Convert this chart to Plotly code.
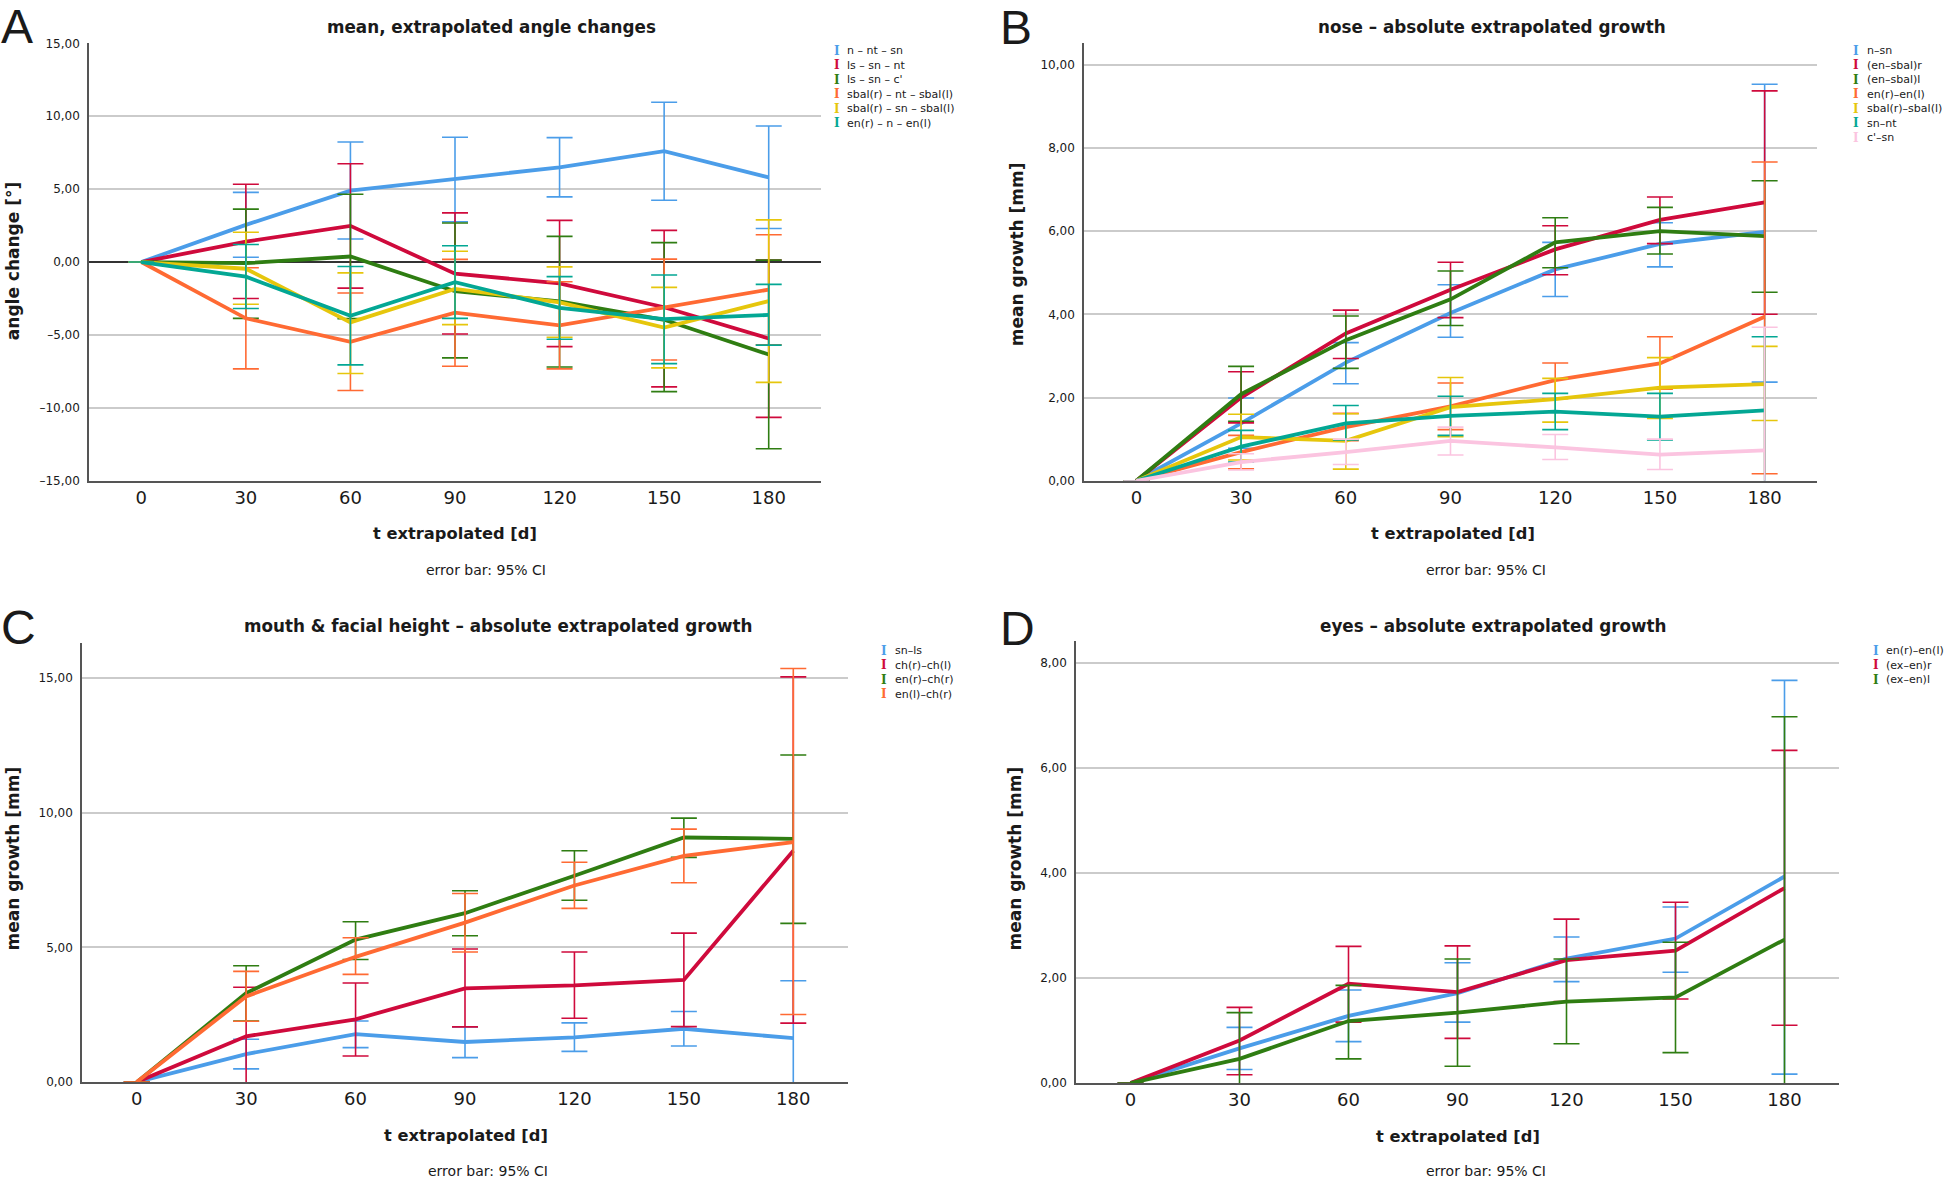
import plotly.graph_objects as go

W, H = 1946, 1190

# ---------------- data ----------------
T_DAYS = ["0", "30", "60", "90", "120", "150", "180"]

BLUE = "#4b9de9"
RED = "#cf0a3c"
GREEN = "#2f7d12"
ORANGE = "#ff6a33"
YELLOW = "#e6c60c"
TEAL = "#03a794"
PINK = "#fbc4e0"

# Panel A - angle changes [°]
A_NAMES = ["n – nt – sn", "ls – sn – nt", "ls – sn – c'",
           "sbal(r) – nt – sbal(l)", "sbal(r) – sn – sbal(l)", "en(r) – n – en(l)"]
A_COLORS = [BLUE, RED, GREEN, ORANGE, YELLOW, TEAL]
A_MEAN = [
    [0, 2.55, 4.90, 5.70, 6.50, 7.60, 5.80],
    [0, 1.40, 2.48, -0.80, -1.46, -3.10, -5.24],
    [0, -0.08, 0.38, -2.00, -2.70, -3.96, -6.34],
    [0, -3.86, -5.47, -3.47, -4.34, -3.14, -1.89],
    [0, -0.46, -4.14, -1.84, -2.76, -4.50, -2.68],
    [0, -1.00, -3.68, -1.38, -3.14, -3.91, -3.63],
]
A_UPPER = [
    [0, 4.78, 8.23, 8.56, 8.53, 10.96, 9.33],
    [0, 5.34, 6.74, 3.37, 2.86, 2.17, 0.13],
    [0, 3.63, 4.65, 2.68, 1.76, 1.33, 0.13],
    [0, -0.39, -2.12, 0.18, -1.35, 0.20, 1.87],
    [0, 2.04, -0.74, 0.74, -0.33, -1.74, 2.89],
    [0, 1.20, -0.31, 1.12, -1.00, -0.89, -1.53],
]
A_LOWER = [
    [0, 0.33, 1.58, 2.76, 4.47, 4.24, 2.30],
    [0, -2.50, -1.79, -4.93, -5.80, -8.56, -10.65],
    [0, -3.86, -3.88, -6.57, -7.20, -8.89, -12.80],
    [0, -7.33, -8.81, -7.15, -7.33, -6.72, -5.67],
    [0, -2.89, -7.64, -4.29, -5.16, -7.26, -8.25],
    [0, -3.19, -7.05, -3.86, -5.29, -6.97, -5.70],
]
A_YTICKS = [-15, -10, -5, 0, 5, 10, 15]
A_YTEXT = ["–15,00", "–10,00", "–5,00", "0,00", "5,00", "10,00", "15,00"]

# Panel B - nose growth [mm]
B_NAMES = ["n–sn", "(en–sbal)r", "(en–sbal)l", "en(r)–en(l)", "sbal(r)–sbal(l)", "sn–nt", "c'–sn"]
B_COLORS = [BLUE, RED, GREEN, ORANGE, YELLOW, TEAL, PINK]
B_MEAN = [
    [0, 1.38, 2.84, 4.03, 5.08, 5.69, 5.98],
    [0, 2.00, 3.54, 4.59, 5.56, 6.27, 6.69],
    [0, 2.08, 3.38, 4.36, 5.73, 6.00, 5.88],
    [0, 0.69, 1.29, 1.79, 2.42, 2.82, 3.94],
    [0, 1.05, 0.96, 1.77, 1.96, 2.24, 2.32],
    [0, 0.82, 1.38, 1.56, 1.66, 1.54, 1.69],
    [0, 0.45, 0.69, 0.96, 0.80, 0.63, 0.73],
]
B_UPPER = [
    [0, 1.99, 3.32, 4.71, 5.73, 6.20, 9.53],
    [0, 2.62, 4.10, 5.25, 6.13, 6.82, 9.37],
    [0, 2.75, 3.96, 5.04, 6.32, 6.57, 7.21],
    [0, 1.09, 1.62, 2.35, 2.83, 3.46, 7.66],
    [0, 1.60, 1.61, 2.48, 2.46, 2.96, 3.23],
    [0, 1.21, 1.81, 2.03, 2.10, 2.10, 3.46],
    [0, 0.65, 1.00, 1.29, 1.11, 1.00, 3.69],
]
B_LOWER = [
    [0, 0.78, 2.33, 3.45, 4.43, 5.14, 2.37],
    [0, 1.39, 2.94, 3.92, 4.95, 5.70, 4.00],
    [0, 1.43, 2.70, 3.73, 5.12, 5.45, 4.53],
    [0, 0.29, 0.96, 1.23, 1.97, 2.20, 0.17],
    [0, 0.50, 0.28, 1.06, 1.41, 1.50, 1.45],
    [0, 0.45, 0.98, 1.09, 1.23, 0.98, -0.10],
    [0, 0.26, 0.39, 0.62, 0.51, 0.27, -2.20],
]
B_YTICKS = [0, 2, 4, 6, 8, 10]
B_YTEXT = ["0,00", "2,00", "4,00", "6,00", "8,00", "10,00"]

# Panel C - mouth & facial height growth [mm]
C_NAMES = ["sn–ls", "ch(r)–ch(l)", "en(r)–ch(r)", "en(l)–ch(r)"]
C_COLORS = [BLUE, RED, GREEN, ORANGE]
C_MEAN = [
    [0, 1.04, 1.78, 1.49, 1.66, 1.98, 1.63],
    [0, 1.70, 2.33, 3.48, 3.59, 3.79, 8.59],
    [0, 3.30, 5.29, 6.27, 7.66, 9.08, 9.03],
    [0, 3.18, 4.65, 5.92, 7.30, 8.40, 8.91],
]
C_UPPER = [
    [0, 1.59, 2.27, 2.05, 2.20, 2.62, 3.76],
    [0, 3.52, 3.68, 4.94, 4.83, 5.53, 15.04],
    [0, 4.32, 5.95, 7.10, 8.59, 9.80, 12.14],
    [0, 4.11, 5.36, 7.00, 8.16, 9.39, 15.35],
]
C_LOWER = [
    [0, 0.49, 1.28, 0.91, 1.14, 1.34, -0.50],
    [0, -0.12, 0.97, 2.05, 2.37, 2.06, 2.19],
    [0, 2.27, 4.55, 5.43, 6.75, 8.34, 5.89],
    [0, 2.26, 4.00, 4.83, 6.45, 7.40, 2.51],
]
C_YTICKS = [0, 5, 10, 15]
C_YTEXT = ["0,00", "5,00", "10,00", "15,00"]

# Panel D - eyes growth [mm]
D_NAMES = ["en(r)–en(l)", "(ex–en)r", "(ex–en)l"]
D_COLORS = [BLUE, RED, GREEN]
D_MEAN = [
    [0, 0.66, 1.28, 1.71, 2.37, 2.75, 3.93],
    [0, 0.81, 1.89, 1.73, 2.34, 2.52, 3.71],
    [0, 0.46, 1.18, 1.34, 1.55, 1.63, 2.73],
]
D_UPPER = [
    [0, 1.06, 1.77, 2.29, 2.78, 3.35, 7.66],
    [0, 1.44, 2.60, 2.61, 3.12, 3.44, 6.33],
    [0, 1.34, 1.86, 2.36, 2.36, 2.68, 6.97],
]
D_LOWER = [
    [0, 0.26, 0.79, 1.16, 1.93, 2.11, 0.17],
    [0, 0.16, 1.16, 0.85, 1.55, 1.60, 1.10],
    [0, -0.42, 0.46, 0.32, 0.75, 0.58, -1.50],
]
D_YTICKS = [0, 2, 4, 6, 8]
D_YTEXT = ["0,00", "2,00", "4,00", "6,00", "8,00"]

TITLES = ["mean, extrapolated angle changes", "nose – absolute extrapolated growth",
          "mouth & facial height – absolute extrapolated growth", "eyes – absolute extrapolated growth"]
YTITLES = ["angle change [°]", "mean growth [mm]", "mean growth [mm]", "mean growth [mm]"]
LETTERS = ["A", "B", "C", "D"]
XTITLE = "t extrapolated [d]"
NOTE = "error bar: 95% CI"

# ---------------- layout helpers ----------------
def fx(x):
    return x / W

def fy(y):
    return 1 - y / H

FONT = "DejaVu Sans"
TXT = "#1a1a1a"

# pixel geometry of each panel: plot box, y range, text positions
PANELS = [
    dict(names=A_NAMES, colors=A_COLORS, mean=A_MEAN, up=A_UPPER, lo=A_LOWER,
         yt=A_YTICKS, ytx=A_YTEXT, yr=[-15, 15.05],
         box=(89, 821, 37, 480), title=(491, 21), xt=(455, 533), note=(486, 570),
         ytitle=(13, 258), letter=(17, 21), leg=(837, 846, 45), zero=True),
    dict(names=B_NAMES, colors=B_COLORS, mean=B_MEAN, up=B_UPPER, lo=B_LOWER,
         yt=B_YTICKS, ytx=B_YTEXT, yr=[0, 10.53],
         box=(1084, 1817, 37, 480), title=(1492, 21), xt=(1453, 533), note=(1486, 570),
         ytitle=(1017, 251), letter=(1016, 22), leg=(1856, 1866, 45), zero=False),
    dict(names=C_NAMES, colors=C_COLORS, mean=C_MEAN, up=C_UPPER, lo=C_LOWER,
         yt=C_YTICKS, ytx=C_YTEXT, yr=[0, 16.3],
         box=(82, 848, 644, 1088), title=(498, 627), xt=(466, 1142), note=(488, 1178),
         ytitle=(13, 862), letter=(18, 628), leg=(884, 894, 652), zero=False),
    dict(names=D_NAMES, colors=D_COLORS, mean=D_MEAN, up=D_UPPER, lo=D_LOWER,
         yt=D_YTICKS, ytx=D_YTEXT, yr=[0, 8.41],
         box=(1076, 1839, 642, 1089), title=(1493, 627), xt=(1458, 1143), note=(1486, 1178),
         ytitle=(1015, 862), letter=(1017, 629), leg=(1876, 1885, 652), zero=False),
]

fig = go.Figure()
annotations = []
layout_axes = {}


def ann(text, x, y, size, bold=False, angle=0, xanchor="center", color=TXT, family=FONT):
    annotations.append(dict(
        text=text, x=fx(x), y=fy(y), xref="paper", yref="paper",
        xanchor=xanchor, yanchor="middle", showarrow=False, textangle=angle,
        borderpad=0,
        font=dict(family=family, size=size, color=color,
                  weight="bold" if bold else "normal"),
    ))


for i, p in enumerate(PANELS):
    k = "" if i == 0 else str(i + 1)
    xa, ya = "x" + k, "y" + k
    x0, x1, y0, y1 = p["box"]

    for name, c, m, u, l in zip(p["names"], p["colors"], p["mean"], p["up"], p["lo"]):
        fig.add_trace(go.Scatter(
            x=T_DAYS, y=m, name=name, mode="lines",
            line=dict(color=c, width=3.8),
            error_y=dict(type="data", symmetric=False,
                         array=[uu - mm for uu, mm in zip(u, m)],
                         arrayminus=[mm - ll for mm, ll in zip(m, l)],
                         color=c, thickness=1.6, width=13),
            xaxis=xa, yaxis=ya, showlegend=False,
        ))

    layout_axes["xaxis" + k] = dict(
        domain=[fx(x0), fx(x1)], anchor=ya, type="category",
        range=[-0.5, 6.5], showgrid=False, zeroline=False,
        showline=True, linecolor="#555555", linewidth=1.5,
        ticks="", tickfont=dict(family=FONT, size=18, color=TXT),
        ticklabelstandoff=0,
    )
    layout_axes["yaxis" + k] = dict(
        domain=[fy(y1), fy(y0)], anchor=xa, range=p["yr"],
        tickvals=p["yt"], ticktext=p["ytx"],
        showgrid=True, gridcolor="#cbcbcb", gridwidth=1.6,
        zeroline=p["zero"], zerolinecolor="#333333", zerolinewidth=1.6,
        showline=True, linecolor="#555555", linewidth=1.5,
        ticks="", tickfont=dict(family=FONT, size=12, color=TXT),
        ticklabelstandoff=5,
    )

    ann(TITLES[i], *p["title"], 16.8, bold=True)
    ann(XTITLE, *p["xt"], 16.3, bold=True)
    ann(NOTE, *p["note"], 14)
    ann(YTITLES[i], *p["ytitle"], 17, bold=True, angle=-90)
    ann(LETTERS[i], *p["letter"], 48, family="Liberation Sans")

    sx, tx, ly = p["leg"]
    for j, (name, c) in enumerate(zip(p["names"], p["colors"])):
        yy = ly + j * 14.7
        ann("I", sx, yy, 12, bold=True, color=c, family="DejaVu Serif")
        ann(name, tx, yy, 11, xanchor="left")

fig.update_layout(
    width=W, height=H, autosize=False,
    margin=dict(l=0, r=0, t=0, b=0),
    paper_bgcolor="white", plot_bgcolor="white",
    font=dict(family=FONT, color=TXT),
    annotations=annotations,
    **layout_axes,
)

fig.write_html("out.html",
               config={"displayModeBar": False},
               post_script="document.body.style.margin='0px';document.body.style.overflow='hidden';")
